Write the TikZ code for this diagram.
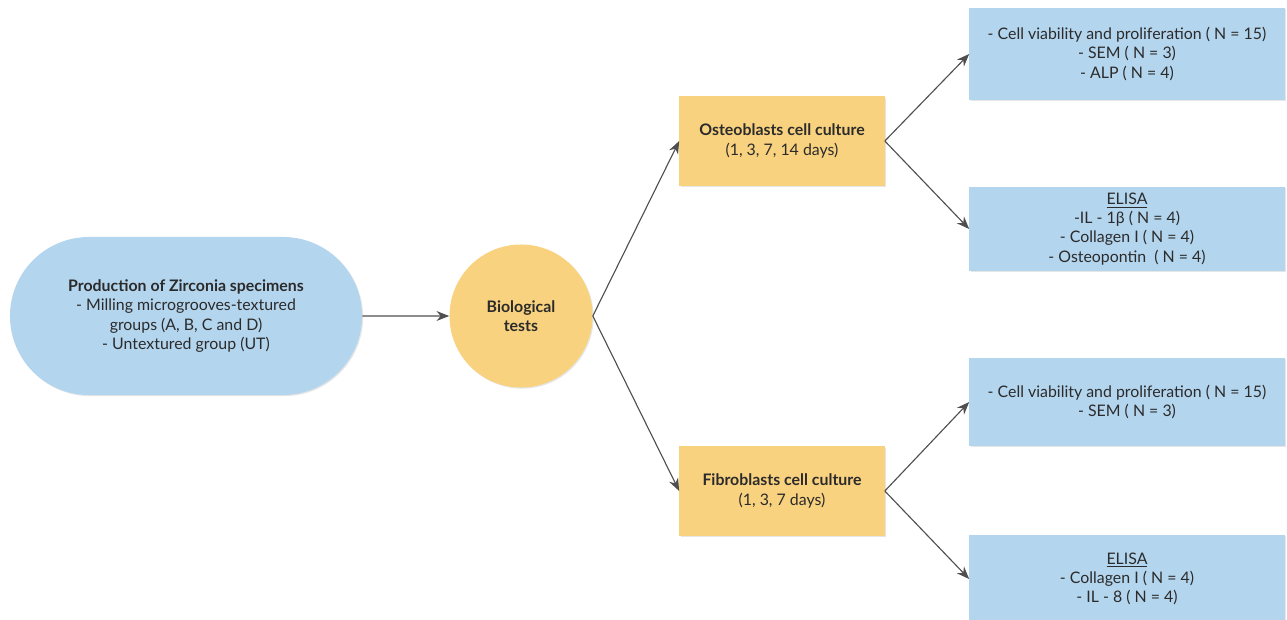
\documentclass[tikz,border=0pt]{standalone}
\usepackage{fontspec}
\setmainfont{Lato}
\usepackage{xcolor}
\usetikzlibrary{shapes.misc, shadows, arrows.meta}

\definecolor{boxblue}{HTML}{B4D5EE}
\definecolor{boxyellow}{HTML}{F9D27F}
\definecolor{inkgray}{HTML}{2B2B2B}
\definecolor{linegray}{HTML}{4F4F4F}

\begin{document}
\begin{tikzpicture}[x=0.025cm, y=-0.025cm,
  every node/.style={font=\fontsize{11.3}{13.6}\selectfont, text=inkgray, align=center, inner sep=0pt},
  bluebox/.style={fill=boxblue, minimum width=7.875cm, drop shadow={opacity=0.2, shadow xshift=0.8pt, shadow yshift=-0.8pt}},
  culturebox/.style={fill=boxyellow, minimum width=5.125cm, minimum height=2.225cm, drop shadow={opacity=0.2, shadow xshift=0.8pt, shadow yshift=-0.8pt}},
  link/.style={draw=linegray, line width=0.8pt, -{Stealth[length=9pt, width=7pt]}}]
\useasboundingbox (0,0) rectangle (1287,619);

% left and centre
\node[rounded rectangle, fill=boxblue, minimum width=8.8cm, minimum height=3.95cm,
  drop shadow={opacity=0.2, shadow xshift=0.8pt, shadow yshift=-0.8pt}] (zirconia) at (186, 316)
  {\textbf{Production of Zirconia specimens}\\- Milling microgrooves-textured\\groups (A, B, C and D)\\- Untextured group (UT)};
\node[circle, fill=boxyellow, minimum size=3.575cm,
  drop shadow={opacity=0.2, shadow xshift=0.8pt, shadow yshift=-0.8pt}] (biotests) at (521, 316)
  {\textbf{Biological}\\\textbf{tests}};

% cultures
\node[culturebox] (osteo) at (782, 141) {\textbf{Osteoblasts cell culture}\\(1, 3, 7, 14 days)};
\node[culturebox] (fibro) at (782, 491) {\textbf{Fibroblasts cell culture}\\(1, 3, 7 days)};

% tests
\node[bluebox, minimum height=2.3cm] (osteoA) at (1127, 54)
  {- Cell viability and proliferation ( N = 15)\\- SEM ( N = 3)\\- ALP ( N = 4)};
\node[bluebox, minimum height=2.1cm] (osteoB) at (1127, 229)
  {\underline{ELISA}\\-IL - 1β ( N = 4)\\- Collagen I ( N = 4)\\- Osteopontin~ ( N = 4)};
\node[bluebox, minimum height=2.2cm] (fibroA) at (1127, 402)
  {- Cell viability and proliferation ( N = 15)\\- SEM ( N = 3)};
\node[bluebox, minimum height=2.2cm] (fibroB) at (1127, 579)
  {\underline{ELISA}\\- Collagen I ( N = 4)\\- IL - 8 ( N = 4)};

\draw[link] (zirconia) -- (biotests);
\draw[link] (biotests.east) -- (osteo.west);
\draw[link] (biotests.east) -- (fibro.west);
\draw[link] (osteo.east) -- (osteoA.west);
\draw[link] (osteo.east) -- (osteoB.west);
\draw[link] (fibro.east) -- (fibroA.west);
\draw[link] (fibro.east) -- (fibroB.west);
\end{tikzpicture}
\end{document}
